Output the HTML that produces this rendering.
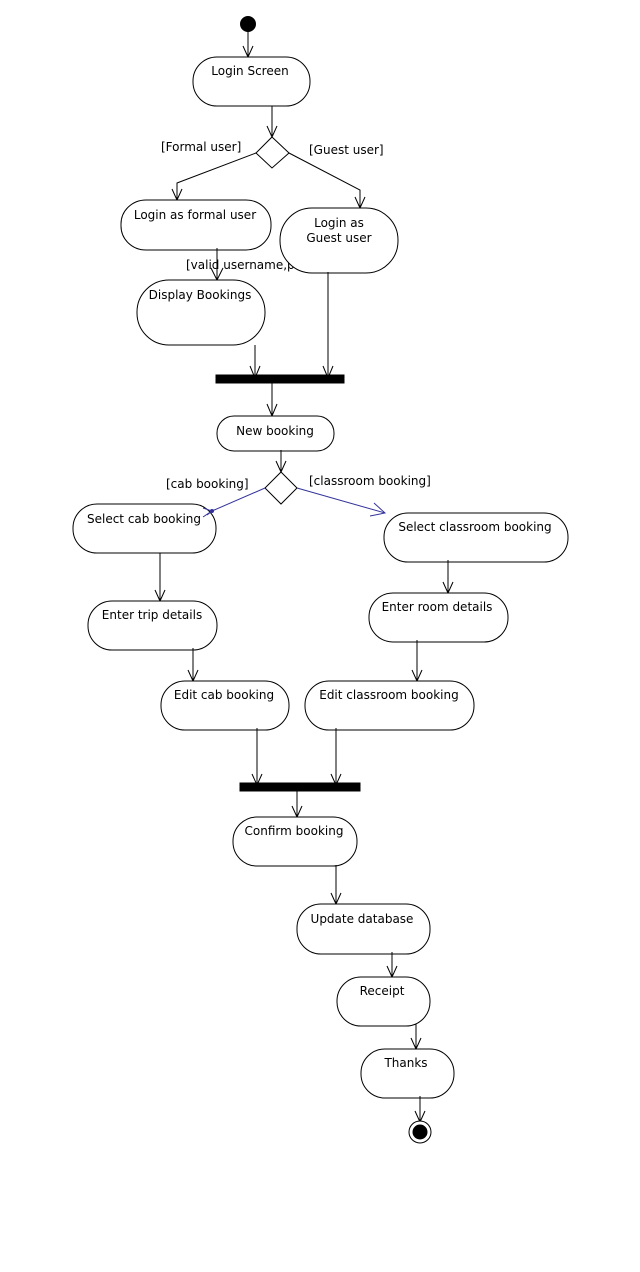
<!DOCTYPE html>
<html><head><meta charset="utf-8"><style>
html,body{margin:0;padding:0;background:#fff;}
svg{display:block;}
text{font-family:"DejaVu Sans","Liberation Sans",sans-serif;font-size:12px;fill:#000;}
</style></head><body>
<svg width="640" height="1272" viewBox="0 0 640 1272" xmlns="http://www.w3.org/2000/svg">
<g fill="none" stroke="#000" stroke-width="1">
<!-- start -->
<circle cx="248" cy="24" r="7.5" fill="#000"/>
<line x1="248" y1="31" x2="248" y2="57"/><polyline points="243,46 248,57 253,46"/>
<!-- login screen -->
<rect x="193" y="57" width="117" height="49" rx="24" ry="24" fill="#fff"/>
<line x1="272" y1="106" x2="272" y2="137"/><polyline points="267,126 272,137 277,126"/>
<polygon points="272,137 289,153 272,168 256,153" fill="#fff"/>
<polyline points="256,153 177,183 177,200"/><polyline points="172,189 177,200 182,189"/>
<polyline points="289,153 360,190 360,208"/><polyline points="355,197 360,208 365,197"/>
<rect x="121" y="200" width="150" height="50" rx="25" ry="24" fill="#fff"/>
<line x1="217" y1="248" x2="217" y2="280"/><polyline points="211,268 217,280 223,268"/>
</g>
<text x="186" y="269">[valid username,p</text>
<g fill="none" stroke="#000" stroke-width="1">
<rect x="280" y="208" width="118" height="65" rx="32" ry="32" fill="#fff"/>
<rect x="137" y="280" width="128" height="65" rx="32" ry="32" fill="#fff"/>
<line x1="255" y1="345" x2="255" y2="378"/><polyline points="250,366 255,378 260,366"/>
<line x1="328" y1="272" x2="328" y2="378"/><polyline points="323,366 328,378 333,366"/>
<rect x="216" y="375" width="128" height="8" fill="#000"/>
<line x1="272" y1="383" x2="272" y2="416"/><polyline points="267,404 272,416 277,404"/>
<rect x="217" y="416" width="117" height="35" rx="17" ry="17" fill="#fff"/>
<line x1="281" y1="450" x2="281" y2="472"/><polyline points="276,461 281,472 286,461"/>
<polygon points="281,472 297,488 281,504 265,488" fill="#fff"/>
<rect x="73" y="504" width="143" height="49" rx="24" ry="24" fill="#fff"/>
<line x1="160" y1="553" x2="160" y2="601"/><polyline points="155,590 160,601 165,590"/>
<rect x="88" y="601" width="129" height="49" rx="24" ry="24" fill="#fff"/>
<line x1="193" y1="648" x2="193" y2="681"/><polyline points="188,670 193,681 198,670"/>
<rect x="161" y="681" width="128" height="49" rx="24" ry="24" fill="#fff"/>
<rect x="384" y="513" width="184" height="49" rx="24" ry="24" fill="#fff"/>
<line x1="448" y1="560" x2="448" y2="593"/><polyline points="443,582 448,593 453,582"/>
<rect x="369" y="593" width="139" height="49" rx="24" ry="24" fill="#fff"/>
<line x1="417" y1="640" x2="417" y2="681"/><polyline points="412,670 417,681 422,670"/>
<rect x="305" y="681" width="169" height="49" rx="24" ry="24" fill="#fff"/>
<line x1="257" y1="728" x2="257" y2="785"/><polyline points="252,774 257,785 262,774"/>
<line x1="336" y1="728" x2="336" y2="785"/><polyline points="331,774 336,785 341,774"/>
<rect x="240" y="783" width="120" height="8" fill="#000"/>
<line x1="297" y1="791" x2="297" y2="817"/><polyline points="292,806 297,817 302,806"/>
<rect x="233" y="817" width="124" height="49" rx="24" ry="24" fill="#fff"/>
<line x1="336" y1="865" x2="336" y2="904"/><polyline points="331,893 336,904 341,893"/>
<rect x="297" y="904" width="133" height="50" rx="24" ry="24" fill="#fff"/>
<line x1="392" y1="952" x2="392" y2="977"/><polyline points="387,966 392,977 397,966"/>
<rect x="337" y="977" width="93" height="49" rx="24" ry="24" fill="#fff"/>
<line x1="416" y1="1024" x2="416" y2="1049"/><polyline points="411,1038 416,1049 421,1038"/>
<rect x="361" y="1049" width="93" height="49" rx="24" ry="24" fill="#fff"/>
<line x1="420" y1="1096" x2="420" y2="1122"/><polyline points="415,1111 420,1122 425,1111"/>
<circle cx="420" cy="1132" r="11" fill="#fff"/>
<circle cx="420" cy="1132" r="7" fill="#000"/>
</g>
<!-- blue guard lines -->
<g fill="none" stroke="#33339a" stroke-width="1">
<polyline points="265,488 212,511 203,517"/>
<polyline points="203,508 212,511 207,515"/>
<circle cx="212" cy="511" r="1.5" fill="#33339a"/>
<line x1="297" y1="488" x2="385" y2="513"/>
<polyline points="374,503 385,513 370,516"/>
</g>
<g text-anchor="middle">
<text x="250" y="75">Login Screen</text>
<text x="195" y="219">Login as formal user</text>
<text x="339" y="227">Login as</text>
<text x="339" y="242">Guest user</text>
<text x="200" y="299">Display Bookings</text>
<text x="275" y="435">New booking</text>
<text x="144" y="523">Select cab booking</text>
<text x="152" y="619">Enter trip details</text>
<text x="224" y="699">Edit cab booking</text>
<text x="475" y="531">Select classroom booking</text>
<text x="437" y="611">Enter room details</text>
<text x="389" y="699">Edit classroom booking</text>
<text x="294" y="835">Confirm booking</text>
<text x="362" y="923">Update database</text>
<text x="382" y="995">Receipt</text>
<text x="406" y="1067">Thanks</text>
</g>
<text x="161" y="151">[Formal user]</text>
<text x="309" y="154">[Guest user]</text>
<text x="166" y="488">[cab booking]</text>
<text x="309" y="485">[classroom booking]</text>
</svg>
</body></html>
